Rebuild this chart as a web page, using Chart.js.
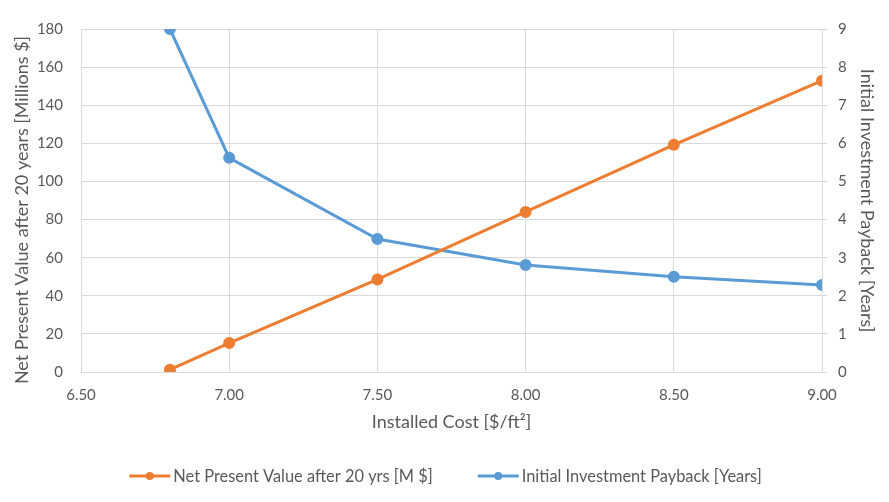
<!DOCTYPE html>
<html>
<head>
<meta charset="utf-8">
<script src="https://cdn.jsdelivr.net/npm/chart.js@4/dist/chart.umd.min.js"></script>
<style>
  html, body { margin: 0; padding: 0; background: #fff; }
  #wrap { width: 889px; height: 502px; }
</style>
</head>
<body>
<div id="wrap"><canvas id="c" width="889" height="502"></canvas></div>
<script>
// Installed cost scenarios ($/ft²)
const installedCost = [6.8, 7.0, 7.5, 8.0, 8.5, 9.0];
// Net present value after 20 years (millions $)
const npvMillions = [1.2, 15.2, 48.6, 84.0, 119.2, 152.9];
// Initial investment payback (years)
const paybackYears = [9.0, 5.62, 3.49, 2.81, 2.50, 2.28];

const seriesNames = ['Net Present Value after 20 yrs [M $]', 'Initial Investment Payback [Years]'];
const seriesColors = ['#ED7D31', '#5B9BD5'];
const leftTitle = 'Net Present Value after 20 years [Millions $]';

const FONT = 'Lato, "Open Sans", sans-serif';
const TXT = '#595959';
const GRID = '#D9D9D9';

const toXY = (xs, ys) => xs.map((x, i) => ({ x: x, y: ys[i] }));

// Legend drawn as line + dot markers underneath the axis title
const lineLegend = {
  id: 'lineLegend',
  afterDraw(chart) {
    const ctx = chart.ctx;
    ctx.save();
    ctx.font = '16.4px ' + FONT;
    ctx.textBaseline = 'middle';
    const y = 476;
    const gap = 45, mark = 41;
    const widths = seriesNames.map(n => mark + 3 + ctx.measureText(n).width);
    const total = widths.reduce((a, b) => a + b, 0) + gap;
    let x = 445.5 - total / 2;
    seriesNames.forEach((name, i) => {
      ctx.strokeStyle = seriesColors[i];
      ctx.lineWidth = 3;
      ctx.beginPath();
      ctx.moveTo(x, y);
      ctx.lineTo(x + mark, y);
      ctx.stroke();
      ctx.fillStyle = seriesColors[i];
      ctx.beginPath();
      ctx.arc(x + mark / 2, y, 4, 0, Math.PI * 2);
      ctx.fill();
      ctx.fillStyle = TXT;
      ctx.fillText(name, x + mark + 3, y + 1);
      x += widths[i] + gap;
    });
    ctx.restore();
  }
};

// Left axis title, rotated, sitting slightly below the axis midpoint
const leftAxisTitle = {
  id: 'leftAxisTitle',
  afterDraw(chart) {
    const ctx = chart.ctx;
    ctx.save();
    ctx.font = '18px ' + FONT;
    ctx.fillStyle = TXT;
    ctx.textAlign = 'center';
    ctx.textBaseline = 'middle';
    ctx.translate(22.5, 210);
    ctx.rotate(-Math.PI / 2);
    ctx.fillText(leftTitle, 0, 0);
    ctx.restore();
  }
};

new Chart(document.getElementById('c'), {
  type: 'line',
  data: {
    datasets: [
      {
        label: seriesNames[0],
        data: toXY(installedCost, npvMillions),
        yAxisID: 'y',
        borderColor: seriesColors[0],
        backgroundColor: seriesColors[0],
        borderWidth: 3,
        pointRadius: 4.5,
        pointHoverRadius: 4.5,
        tension: 0
      },
      {
        label: seriesNames[1],
        data: toXY(installedCost, paybackYears),
        yAxisID: 'y1',
        borderColor: seriesColors[1],
        backgroundColor: seriesColors[1],
        borderWidth: 3,
        pointRadius: 4.5,
        pointHoverRadius: 4.5,
        tension: 0
      }
    ]
  },
  options: {
    responsive: false,
    animation: false,
    layout: { padding: { top: 29, right: 0, bottom: 60, left: 0 } },
    plugins: {
      legend: { display: false },
      tooltip: { enabled: false }
    },
    scales: {
      x: {
        type: 'linear',
        min: 6.5,
        max: 9.0,
        afterFit: s => { s.height = 70; },
        ticks: {
          stepSize: 0.5,
          color: TXT,
          font: { family: FONT, size: 15 },
          padding: 14,
          maxRotation: 0,
          callback: v => Number(v).toFixed(2)
        },
        grid: { color: GRID, lineWidth: 1, drawTicks: false },
        border: { color: GRID },
        title: {
          display: true,
          text: 'Installed Cost [$/ft²]',
          color: TXT,
          font: { family: FONT, size: 18 },
          padding: { top: 0, bottom: 9 }
        }
      },
      y: {
        position: 'left',
        min: 0,
        max: 180,
        afterFit: s => { s.width = 81; },
        ticks: {
          stepSize: 20,
          color: TXT,
          font: { family: FONT, size: 15 },
          padding: 18
        },
        grid: { color: GRID, lineWidth: 1, drawTicks: false },
        border: { color: GRID },
        title: { display: false }
      },
      y1: {
        position: 'right',
        min: 0,
        max: 9,
        afterFit: s => { s.width = 67; },
        ticks: {
          stepSize: 1,
          color: TXT,
          font: { family: FONT, size: 15 },
          padding: 11
        },
        grid: { drawOnChartArea: false, color: GRID, tickLength: 5 },
        border: { color: GRID },
        title: {
          display: true,
          text: 'Initial Investment Payback [Years]',
          color: TXT,
          font: { family: FONT, size: 18 },
          padding: { top: 11, bottom: 0 }
        }
      }
    }
  },
  plugins: [lineLegend, leftAxisTitle]
});
</script>
</body>
</html>
